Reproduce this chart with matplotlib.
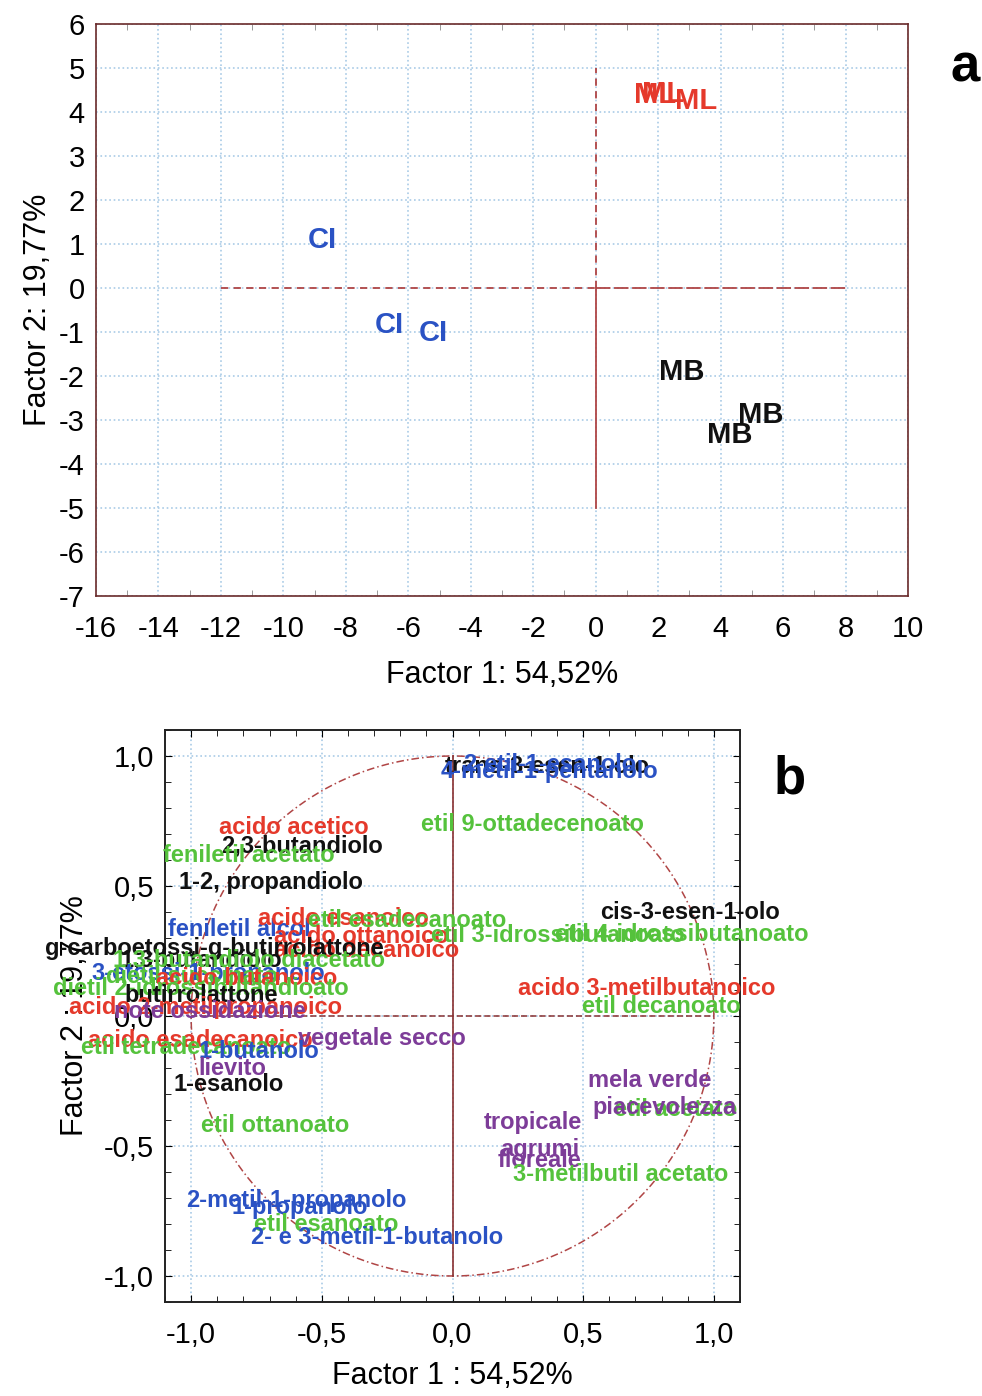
import numpy as np
import matplotlib.pyplot as plt
from matplotlib.ticker import MultipleLocator, FuncFormatter

plt.rcParams['font.family'] = ['Liberation Sans', 'DejaVu Sans']
plt.rcParams['axes.unicode_minus'] = False

# ---- panel a: factor scores ----
obs_labels = ['CI', 'CI', 'CI', 'ML', 'ML', 'ML', 'MB', 'MB', 'MB']
obs_x = [-8.75, -6.6, -5.2, 1.9, 2.15, 3.2, 2.75, 5.3, 4.3]
obs_y = [1.09, -0.84, -1.02, 4.38, 4.4, 4.25, -1.91, -2.89, -3.34]
obs_col = ['blue', 'blue', 'blue', 'red', 'red', 'red', 'black', 'black', 'black']

# ---- panel b: variable loadings (label, x, y, colour) ----
var_labels = ['trans-3-esen-1-olo', '2-etil-1-esanolo', '4-metil-1-pentanolo',
              'etil 9-ottadecenoato', 'acido acetico', '2,3-butandiolo',
              'feniletil acetato', '1-2, propandiolo', 'feniletil alcol',
              'acido esanoico', 'etil esadecanoato', 'acido ottanoico',
              'acido decanoico', 'g-carboetossi-g-butirrolattone', '1,3-butandiolo',
              '1,3-butandiolo diacetato', '3-etossi-1-propanolo', 'dietil succinato',
              'acido butanoico', 'dietil 2-idrossibutandioato', 'butirrolattone',
              'acido 2-metilpropanoico', 'note ossidazione', 'acido esadecanoico',
              'etil tetradecanoato', 'vegetale secco', '1-butanolo', 'lievito',
              '1-esanolo', 'etil ottanoato', '2-metil-1-propanolo', '1-propanolo',
              'etil esanoato', '2- e 3-metil-1-butanolo', 'tropicale', 'agrumi',
              'floreale', '3-metilbutil acetato', 'mela verde', 'etil acetato',
              'piacevolezza', 'acido 3-metilbutanoico', 'etil decanoato',
              'cis-3-esen-1-olo', 'etil 3-idrossibutanoato', 'etil 4-idrossibutanoato']
var_x = [-0.03, 0.042, -0.046, -0.122, -0.893, -0.885, -1.107, -1.046, -1.088,
         -0.744, -0.553, -0.683, -0.683, -1.561, -1.271, -1.298, -1.382, -1.324,
         -1.134, -1.527, -1.256, -1.469, -1.294, -1.393, -1.42, -0.592, -0.973,
         -0.973, -1.069, -0.962, -1.019, -0.844, -0.760, -0.771, 0.118, 0.183,
         0.172, 0.233, 0.519, 0.618, 0.534, 0.252, 0.496, 0.565, -0.084, 0.393]
var_y = [0.958, 0.969, 0.939, 0.736, 0.724, 0.655, 0.617, 0.513, 0.333,
         0.375, 0.368, 0.307, 0.253, 0.261, 0.215, 0.215, 0.165, 0.153,
         0.146, 0.107, 0.077, 0.031, 0.019, -0.096, -0.123, -0.088, -0.138,
         -0.203, -0.264, -0.421, -0.709, -0.736, -0.801, -0.851, -0.410, -0.513,
         -0.556, -0.609, -0.249, -0.360, -0.352, 0.107, 0.038, 0.398, 0.310, 0.314]
var_col = ['black', 'blue', 'blue', 'green', 'red', 'black', 'green', 'black', 'blue',
           'red', 'green', 'red', 'red', 'black', 'black', 'green', 'blue', 'green',
           'red', 'green', 'black', 'red', 'purple', 'red', 'green', 'purple', 'blue',
           'purple', 'black', 'green', 'blue', 'blue', 'green', 'blue', 'purple', 'purple',
           'purple', 'green', 'purple', 'green', 'purple', 'red', 'green', 'black',
           'green', 'green']

palette = {'blue': '#2a52c4', 'red': '#e5392b', 'black': '#111111',
           'green': '#55c23c', 'purple': '#7d3c98'}

grid_c = '#a9cbe6'
line_c = '#b04545'

fig = plt.figure(figsize=(9.82, 13.96), dpi=100)

# ---------------- panel a ----------------
ax = fig.add_axes([96/982, 1 - 596/1396, 812/982, 572/1396])
ax.set_xlim(-16, 10)
ax.set_ylim(-7, 6)
ax.xaxis.set_major_locator(MultipleLocator(2))
ax.yaxis.set_major_locator(MultipleLocator(1))
ax.xaxis.set_minor_locator(MultipleLocator(1))
ax.grid(True, which='major', color=grid_c, linestyle=':', linewidth=1.2)
ax.tick_params(which='major', length=0, labelsize=21, pad=8)
ax.tick_params(axis='x', which='major', pad=14)
ax.tick_params(which='minor', direction='in', length=4, color='#888888',
               top=True, right=True)
for s in ax.spines.values():
    s.set_color('#6a2a2a')
    s.set_linewidth(1.2)
ax.plot([-12, 0], [0, 0], color=line_c, ls=(0, (4, 3)), lw=1.3)
ax.plot([0, 8], [0, 0], color=line_c, ls=(0, (8, 2)), lw=1.3)
ax.plot([0, 0], [0, 5], color=line_c, ls=(0, (4, 3)), lw=1.3)
ax.plot([0, 0], [-5, 0], color=line_c, ls='-', lw=1.3)
for lab, x, y, c in zip(obs_labels, obs_x, obs_y, obs_col):
    ax.text(x, y, lab, color=palette[c], fontsize=21, fontweight='bold',
            ha='center', va='center')
ax.set_xlabel('Factor 1: 54,52%', fontsize=22, labelpad=12)
ax.set_ylabel('Factor 2: 19,77%', fontsize=22, labelpad=4)
fig.text(965/982, 1 - 68/1396, 'a', fontsize=38, fontweight='bold',
         ha='center', va='center')

# ---------------- panel b ----------------
bx = fig.add_axes([165/982, 1 - 1302/1396, 575/982, 572/1396])
bx.set_xlim(-1.1, 1.1)
bx.set_ylim(-1.1, 1.1)
bx.xaxis.set_major_locator(MultipleLocator(0.5))
bx.yaxis.set_major_locator(MultipleLocator(0.5))
bx.xaxis.set_minor_locator(MultipleLocator(0.1))
bx.yaxis.set_minor_locator(MultipleLocator(0.1))
bx.xaxis.set_major_formatter(FuncFormatter(lambda v, p: ('%.1f' % v).replace('.', ',')))
bx.yaxis.set_major_formatter(FuncFormatter(lambda v, p: ('%.1f' % v).replace('.', ',')))
bx.grid(True, which='major', color=grid_c, linestyle=':', linewidth=1.2)
bx.tick_params(which='major', direction='in', length=5, labelsize=21, pad=8,
               top=True, right=True)
bx.tick_params(axis='x', which='major', pad=14)
bx.tick_params(which='minor', direction='in', length=4, top=True, right=True)
for s in bx.spines.values():
    s.set_color('#222222')
    s.set_linewidth(1.4)
t = np.linspace(0, 2 * np.pi, 400)
bx.plot(np.cos(t), np.sin(t), color=line_c, ls=(0, (5, 2, 1, 2)), lw=1.1)
bx.plot([-1, 1], [0, 0], color='#8a3030', ls=(0, (4, 2)), lw=1.1)
bx.plot([0, 0], [-1, 1], color='#8a3030', ls='-', lw=1.2)
for lab, x, y, c in zip(var_labels, var_x, var_y, var_col):
    bx.text(x, y, lab, color=palette[c], fontsize=17, fontweight='bold',
            ha='left', va='center', clip_on=False, zorder=5)
bx.set_xlabel('Factor 1 : 54,52%', fontsize=22, labelpad=8)
bx.set_ylabel('Factor 2 : 19,77%', fontsize=22, labelpad=10)
fig.text(790/982, 1 - 780/1396, 'b', fontsize=38, fontweight='bold',
         ha='center', va='center')

fig.savefig('out.png', dpi=100)
